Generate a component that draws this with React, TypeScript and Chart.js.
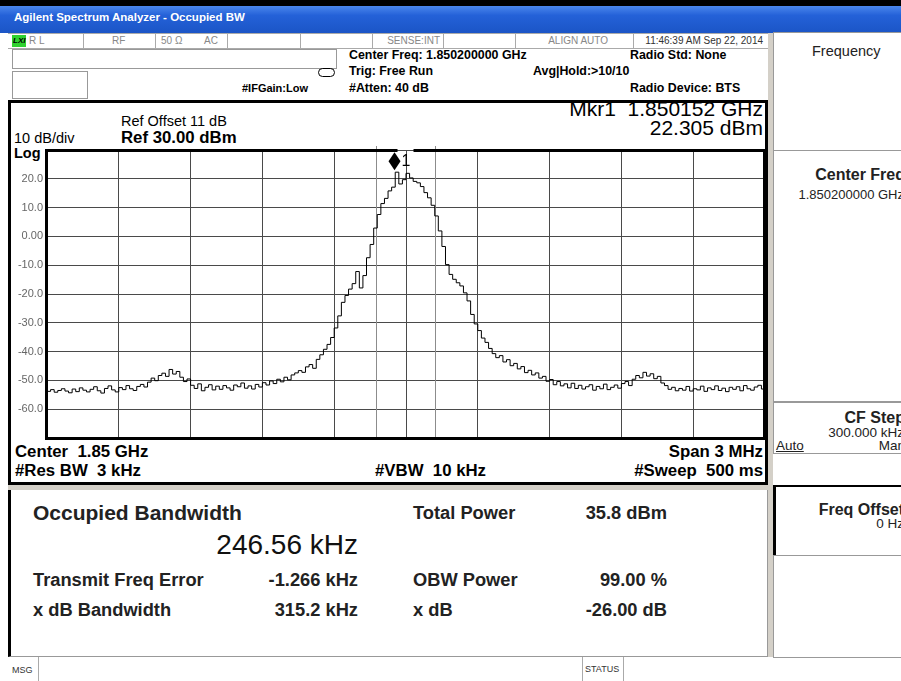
import React, { useEffect, useRef } from "react";
import { Chart, registerables } from "chart.js";
Chart.register(...registerables);

// ---- data ----
const sweepStartKHz = -1500; // offset from center freq
const sweepStepKHz = 15;
const traceLevels = [
  -53.8, -53.2, -54.1, -53.5, -52.9, -53.7, -54.3, -53.0, -53.9, -52.6,
  -53.4, -54.0, -53.1, -52.2, -53.6, -54.4, -52.8, -51.9, -53.3, -54.0,
  -52.5, -53.2, -51.8, -52.9, -53.5, -52.1, -51.4, -52.3, -50.6, -49.2,
  -50.1, -48.3, -47.5, -48.6, -46.2, -47.8, -46.9, -48.9, -50.4, -49.5,
  -51.7, -52.8, -51.2, -53.6, -52.4, -51.5, -53.3, -52.0, -53.1, -51.8,
  -52.6, -53.4, -51.6, -52.2, -50.9, -52.7, -51.9, -53.0, -51.4, -52.3,
  -50.8, -51.6, -50.2, -51.1, -49.6, -50.5, -48.9, -49.8, -48.1, -47.4,
  -46.6, -47.2, -45.3, -44.5, -45.8, -42.7, -41.1, -39.2, -37.5, -35.1,
  -31.8, -27.6, -22.9, -20.5, -18.3, -16.4, -12.2, -17.9, -13.6, -7.4,
  -2.8, 2.9, 7.6, 11.4, 13.2, 15.8, 17.1, 22.3, 18.2, 19.7,
  21.9, 20.3, 19.1, 18.6, 17.3, 15.2, 13.4, 10.8, 7.1, 1.9,
  -3.5, -9.8, -13.2, -14.9, -16.1, -17.2, -19.6, -22.4, -27.1, -30.4,
  -32.7, -35.3, -36.8, -38.9, -40.7, -42.1, -41.4, -43.6, -42.8, -44.9,
  -44.1, -46.0, -45.2, -47.3, -46.5, -48.1, -47.4, -49.2, -48.6, -50.3,
  -49.7, -51.5, -50.4, -51.9, -51.2, -52.6, -51.0, -52.8, -51.7, -53.0,
  -52.2, -51.5, -53.4, -52.1, -52.9, -51.3, -53.2, -52.4, -51.6, -52.7,
  -51.1, -50.4, -51.8, -49.6, -48.3, -49.1, -47.2, -48.5, -47.7, -49.4,
  -48.6, -50.9, -51.8, -53.1, -52.4, -53.6, -52.8, -53.4, -52.1, -53.7,
  -52.9, -53.3, -52.0, -53.8, -52.6, -53.2, -51.9, -53.5, -52.7, -53.9,
  -52.4, -53.1, -52.2, -53.6, -51.8, -52.9, -53.4, -52.3, -51.7, -53.0,
  -52.5,
];
const yTickValues = [20, 10, 0, -10, -20, -30, -40, -50, -60];
const yTickLabels = ["20.0", "10.0", "0.00", "-10.0", "-20.0", "-30.0", "-40.0", "-50.0", "-60.0"];
const markerFreqKHz = -48;
const markerLevel = 22.305;
const occupiedBwKHz = 246.56;
const freqErrorKHz = -1.266;

const FONT = '"Liberation Sans", Arial, sans-serif';

const overlay = {
  id: "overlay",
  beforeDatasetsDraw(chart: any) {
    const { ctx, chartArea: a, scales } = chart;
    ctx.save();
    ctx.strokeStyle = "#8c8c8c";
    ctx.lineWidth = 1;
    for (const f of [freqErrorKHz - occupiedBwKHz / 2, freqErrorKHz + occupiedBwKHz / 2]) {
      const px = Math.round(scales.x.getPixelForValue(f)) + 0.5;
      ctx.beginPath();
      ctx.moveTo(px, a.top - 4);
      ctx.lineTo(px, a.bottom);
      ctx.stroke();
    }
    ctx.restore();
  },
  afterDatasetsDraw(chart: any) {
    const { ctx, chartArea: a, scales } = chart;
    const mx = scales.x.getPixelForValue(markerFreqKHz);
    const my = scales.y.getPixelForValue(markerLevel) - 11;
    ctx.save();
    ctx.fillStyle = "#000";
    // graticule borders
    ctx.fillRect(a.left - 2, a.top - 1, 3, a.bottom - a.top + 2);
    ctx.fillRect(a.left - 2, a.bottom - 1, a.right - a.left + 4, 3);
    ctx.fillRect(a.right - 2, a.top - 1, 4, a.bottom - a.top + 2);
    const gapStart = mx + 3;
    const gapEnd = mx + 19;
    ctx.fillRect(a.left - 2, a.top - 1, gapStart - (a.left - 2), 3);
    ctx.fillRect(gapEnd, a.top - 1, a.right + 2 - gapEnd, 3);
    // marker diamond
    ctx.beginPath();
    ctx.moveTo(mx, my - 9);
    ctx.lineTo(mx + 6, my);
    ctx.lineTo(mx, my + 9);
    ctx.lineTo(mx - 6, my);
    ctx.closePath();
    ctx.fill();
    ctx.font = "16px " + FONT;
    ctx.textBaseline = "middle";
    ctx.textAlign = "left";
    ctx.fillText("1", mx + 7, my);
    // y tick labels
    ctx.font = "11px " + FONT;
    ctx.fillStyle = "#666";
    ctx.textAlign = "right";
    yTickValues.forEach((v, i) => {
      ctx.fillText(yTickLabels[i], a.left - 4, scales.y.getPixelForValue(v));
    });
    ctx.restore();
  },
};

type TP = { x: number; y: number; s: number; b?: boolean; r?: boolean; c?: string; u?: boolean; children: React.ReactNode };
function Tx({ x, y, s, b, r, c, u, children }: TP) {
  const st: React.CSSProperties = {
    position: "absolute",
    top: y - s * 0.6,
    lineHeight: `${s * 1.2}px`,
    fontSize: s,
    fontWeight: b ? 700 : 400,
    color: c || "#000",
    whiteSpace: "nowrap",
    textDecoration: u ? "underline" : "none",
  };
  if (r) st.right = 901 - x;
  else st.left = x;
  return <div style={st}>{children}</div>;
}

function Bx({ x, y, w, h, st }: { x: number; y: number; w: number; h: number; st?: React.CSSProperties }) {
  return <div style={{ position: "absolute", left: x, top: y, width: w, height: h, boxSizing: "border-box", ...st }} />;
}

export default function App() {
  const ref = useRef<HTMLCanvasElement>(null);
  useEffect(() => {
    const canvas = ref.current!;
    const points = traceLevels.map((v, i) => ({ x: sweepStartKHz + i * sweepStepKHz, y: v }));
    const chart = new Chart(canvas, {
      type: "line",
      data: {
        datasets: [
          { data: points, borderColor: "#000", borderWidth: 1, pointRadius: 0, stepped: true, fill: false },
        ],
      },
      options: {
        animation: false,
        responsive: false,
        devicePixelRatio: 1,
        layout: { padding: { top: 5, right: 5, bottom: 3, left: 0 } },
        plugins: { legend: { display: false }, tooltip: { enabled: false } },
        scales: {
          x: {
            type: "linear",
            min: -1500,
            max: 1500,
            ticks: { display: false, stepSize: 300 },
            grid: { color: "#4a4a4a", drawTicks: false },
            border: { display: false },
            afterFit: (s: any) => {
              s.height = 0;
            },
          },
          y: {
            min: -70,
            max: 30,
            ticks: { display: false, stepSize: 10 },
            grid: { color: "#4a4a4a", drawTicks: false },
            border: { display: false },
            afterFit: (s: any) => {
              s.width = 37;
            },
          },
        },
      } as any,
      plugins: [overlay],
    });
    return () => chart.destroy();
  }, []);

  const gray = "#d4d0c8";
  const sep = (x: number) => <Bx x={x} y={34} w={1} h={14} st={{ background: "#aaa" }} />;

  return (
    <div
      style={{
        position: "absolute",
        left: 0,
        top: 0,
        width: 901,
        height: 681,
        overflow: "hidden",
        background: "#fff",
        fontFamily: FONT,
      }}
    >
      {/* window title */}
      <Bx x={0} y={0} w={901} h={6} st={{ background: "#000" }} />
      <Bx x={0} y={6} w={901} h={27} st={{ background: "linear-gradient(to bottom, #4a86ec 0%, #2461d8 35%, #1b55c6 100%)" }} />
      <Tx x={14} y={18} s={11.5} b c="#fff">Agilent Spectrum Analyzer - Occupied BW</Tx>

      {/* status row */}
      <Bx x={8} y={33} w={760} h={16} st={{ borderBottom: "1px solid #aaa", borderTop: "1px solid #aaa" }} />
      <Bx x={12} y={35} w={14} h={12} st={{ background: "#2fd12f" }} />
      <Tx x={13} y={41} s={8} b c="#000"><i>LXI</i></Tx>
      <Tx x={29} y={41} s={10} c="#888">R L</Tx>
      {sep(83)}
      <Tx x={112} y={41} s={10} c="#888">RF</Tx>
      {sep(155)}
      <Tx x={161} y={41} s={10} c="#888">50 Ω</Tx>
      <Tx x={204} y={41} s={10} c="#888">AC</Tx>
      {sep(227)}
      {sep(300)}
      {sep(372)}
      <Tx x={440} y={41} s={10} r c="#888">SENSE:INT</Tx>
      {sep(443)}
      {sep(515)}
      <Tx x={608} y={41} s={10} r c="#888">ALIGN AUTO</Tx>
      {sep(633)}
      <Tx x={763} y={41} s={10} r c="#333">11:46:39 AM Sep 22, 2014</Tx>

      {/* header boxes */}
      <Bx x={12} y={49} w={325} h={20} st={{ border: "1px solid #999" }} />
      <Bx x={12} y={71} w={76} h={28} st={{ border: "1px solid #999" }} />
      <Tx x={242} y={89} s={11} b>#IFGain:Low</Tx>
      <Bx x={318} y={68} w={17} h={9} st={{ border: "1px solid #000", borderRadius: 5 }} />
      <Tx x={349} y={55} s={12.4} b>Center Freq: 1.850200000 GHz</Tx>
      <Tx x={349} y={71} s={12.4} b>Trig: Free Run</Tx>
      <Tx x={349} y={88} s={12.4} b>#Atten: 40 dB</Tx>
      <Tx x={533} y={71} s={12.4} b>Avg|Hold:&gt;10/10</Tx>
      <Tx x={630} y={55} s={12.4} b>Radio Std: None</Tx>
      <Tx x={630} y={88} s={12.4} b>Radio Device: BTS</Tx>

      {/* plot panel */}
      <Bx x={8} y={100} w={760} h={385} st={{ border: "3px solid #000" }} />
      <Tx x={121} y={122} s={14.5}>Ref Offset 11 dB</Tx>
      <Tx x={121} y={138} s={16.8} b>Ref 30.00 dBm</Tx>
      <Tx x={14} y={139} s={14.5}>10 dB/div</Tx>
      <Tx x={14} y={154} s={14.5} b>Log</Tx>
      <Tx x={763} y={109} s={21} r>Mkr1&nbsp;&nbsp;1.850152 GHz</Tx>
      <Tx x={763} y={128} s={21} r>22.305 dBm</Tx>
      <canvas ref={ref} width={760} height={296} style={{ position: "absolute", left: 10, top: 145, width: 760, height: 296 }} />
      <Tx x={15} y={452} s={16.8} b>Center&nbsp;&nbsp;1.85 GHz</Tx>
      <Tx x={15} y={471} s={16.8} b>#Res BW&nbsp;&nbsp;3 kHz</Tx>
      <Tx x={375} y={471} s={16.8} b>#VBW&nbsp;&nbsp;10 kHz</Tx>
      <Tx x={763} y={452} s={16.8} r b>Span 3 MHz</Tx>
      <Tx x={763} y={471} s={16.8} r b>#Sweep&nbsp;&nbsp;500 ms</Tx>

      {/* gray separators */}
      <Bx x={8} y={485} w={765} h={5} st={{ background: gray }} />
      <Bx x={768} y={33} w={5} h={624} st={{ background: gray }} />

      {/* results panel */}
      <Bx x={8} y={490} w={760} h={167} st={{ borderLeft: "3px solid #000", borderRight: "1px solid #999", borderBottom: "1px solid #999" }} />
      <Tx x={33} y={513} s={21} b c="#222">Occupied Bandwidth</Tx>
      <Tx x={358} y={545} s={28} r c="#111">246.56 kHz</Tx>
      <Tx x={33} y={580} s={18.3} b c="#222">Transmit Freq Error</Tx>
      <Tx x={358} y={580} s={18.3} r b c="#222">-1.266 kHz</Tx>
      <Tx x={33} y={610} s={18.3} b c="#222">x dB Bandwidth</Tx>
      <Tx x={358} y={610} s={18.3} r b c="#222">315.2 kHz</Tx>
      <Tx x={413} y={513} s={18.3} b c="#222">Total Power</Tx>
      <Tx x={667} y={513} s={18.3} r b c="#222">35.8 dBm</Tx>
      <Tx x={413} y={580} s={18.3} b c="#222">OBW Power</Tx>
      <Tx x={667} y={580} s={18.3} r b c="#222">99.00 %</Tx>
      <Tx x={413} y={610} s={18.3} b c="#222">x dB</Tx>
      <Tx x={667} y={610} s={18.3} r b c="#222">-26.00 dB</Tx>

      {/* status bar */}
      <Bx x={0} y={657} w={39} h={24} st={{ borderRight: "1px solid #aaa" }} />
      <Tx x={12} y={670} s={9} c="#333">MSG</Tx>
      <Bx x={582} y={657} w={42} h={24} st={{ borderLeft: "1px solid #aaa", borderRight: "1px solid #aaa" }} />
      <Tx x={585} y={669} s={9} c="#333">STATUS</Tx>

      {/* softkey panel */}
      <Bx x={773} y={32} w={140} h={119} st={{ border: "1px solid #999" }} />
      <Tx x={812} y={52} s={14.5} c="#222">Frequency</Tx>
      <Bx x={773} y={150} w={140} h={252} st={{ border: "1px solid #999" }} />
      <Tx x={905} y={175} s={16} r b c="#222">Center Freq</Tx>
      <Tx x={904} y={195} s={13} r c="#222">1.850200000 GHz</Tx>
      <Bx x={773} y={402} w={140} h={52} st={{ border: "1px solid #999" }} />
      <Tx x={905} y={418} s={16} r b c="#222">CF Step</Tx>
      <Tx x={904} y={433} s={13.5} r c="#222">300.000 kHz</Tx>
      <Tx x={776} y={446} s={13.5} u c="#222">Auto</Tx>
      <Tx x={905} y={446} s={13.5} r c="#222">Man</Tx>
      <Bx x={773} y={485} w={140} h={71} st={{ borderTop: "2px solid #000", borderLeft: "3px solid #000", borderBottom: "1px solid #999" }} />
      <Tx x={904} y={510} s={16} r b c="#222">Freq Offset</Tx>
      <Tx x={904} y={524} s={13.5} r c="#222">0 Hz</Tx>
      <Bx x={773} y={555} w={140} h={103} st={{ border: "1px solid #999" }} />
    </div>
  );
}
